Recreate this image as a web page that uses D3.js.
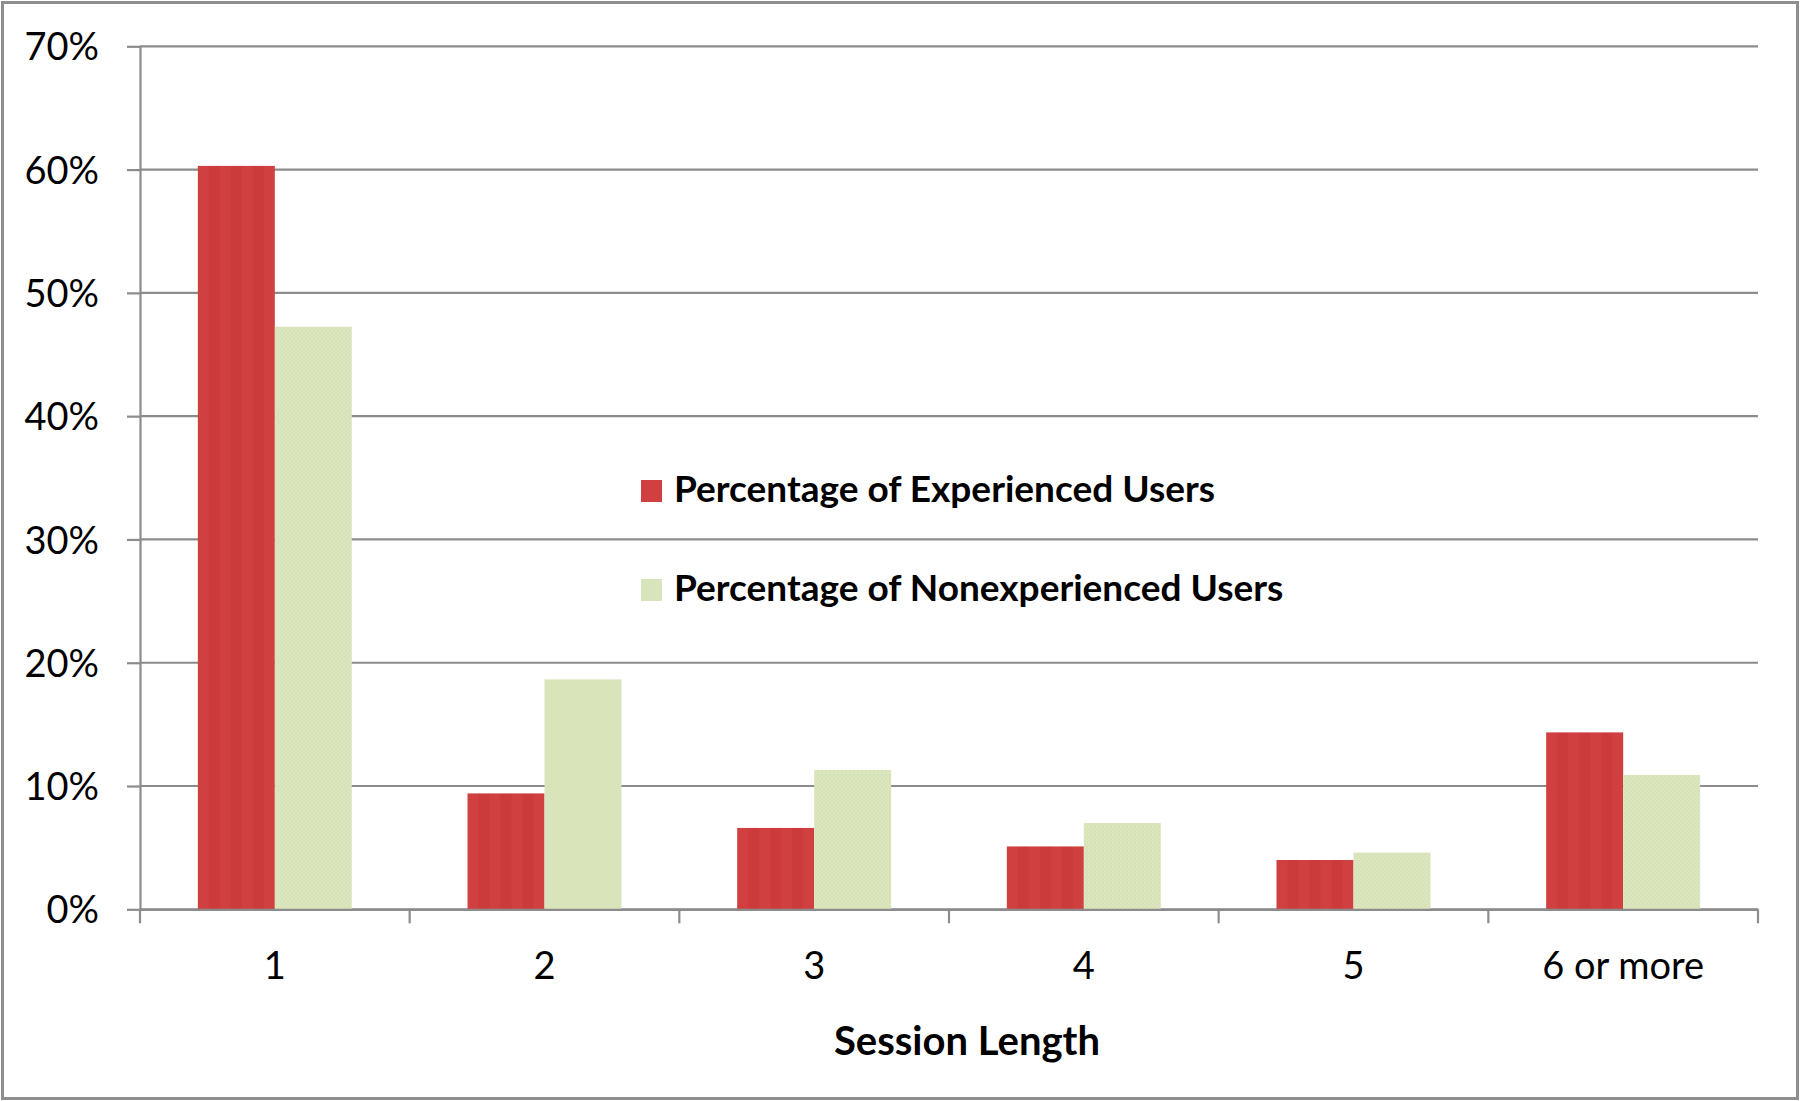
<!DOCTYPE html>
<html>
<head>
<meta charset="utf-8">
<script src="https://cdn.jsdelivr.net/npm/d3@7"></script>
<style>
  body { margin: 0; background: #fff; }
  text { font-family: Lato, "Open Sans", sans-serif; fill: #000; }
</style>
</head>
<body>
<div id="chart"></div>
<script>
"use strict";

// data
var categories = ["1", "2", "3", "4", "5", "6 or more"];
var seriesNames = ["Percentage of Experienced Users", "Percentage of Nonexperienced Users"];
var experienced = [0.603, 0.094, 0.066, 0.051, 0.040, 0.1435];
var nonexperienced = [0.4725, 0.1865, 0.113, 0.070, 0.046, 0.109];
var yTicks = [0, 0.1, 0.2, 0.3, 0.4, 0.5, 0.6, 0.7];

var W = 1800, H = 1101;
var margin = {top: 46.3, left: 140, right: 42, bottom: 191.7};
var width = W - margin.left - margin.right;
var height = H - margin.top - margin.bottom;

var svg = d3.select("#chart")
    .append("svg")
    .attr("width", W)
    .attr("height", H);

// textures for the bars
var defs = svg.append("defs");
var redPat = defs.append("pattern")
    .attr("id", "redFill")
    .attr("patternUnits", "userSpaceOnUse")
    .attr("width", 22).attr("height", 10);
redPat.append("rect").attr("width", 22).attr("height", 10).attr("fill", "#d04040");
redPat.append("rect").attr("x", 11).attr("width", 11).attr("height", 10).attr("fill", "#cc3a3b");

var greenPat = defs.append("pattern")
    .attr("id", "greenFill")
    .attr("patternUnits", "userSpaceOnUse")
    .attr("width", 4).attr("height", 4);
greenPat.append("rect").attr("width", 4).attr("height", 4).attr("fill", "#dbe6bf");
greenPat.append("rect").attr("x", 0).attr("y", 0).attr("width", 1).attr("height", 1).attr("fill", "#c5d79c");
greenPat.append("rect").attr("x", 2).attr("y", 2).attr("width", 1).attr("height", 1).attr("fill", "#cbdba6");

var fills = ["url(#redFill)", "url(#greenFill)"];
var legendFills = ["#d04040", "#d8e4bb"];

// outer frame
svg.append("rect")
    .attr("x", 2.5).attr("y", 2.5)
    .attr("width", W - 5).attr("height", H - 5)
    .attr("fill", "none")
    .attr("stroke", "#8e8e8e")
    .attr("stroke-width", 3);

var g = svg.append("g")
    .attr("transform", "translate(" + margin.left + "," + margin.top + ")");

// scales
var x = d3.scaleBand()
    .domain(categories)
    .range([0, width])
    .paddingInner(0.429)
    .paddingOuter(0.2145);

var xs = d3.scaleBand()
    .domain(seriesNames)
    .range([0, x.bandwidth()]);

var y = d3.scaleLinear()
    .domain([0, 0.7])
    .range([height, 0]);

// gridlines
g.append("g")
    .selectAll("line")
    .data(yTicks)
    .enter()
    .append("line")
    .attr("x1", 0)
    .attr("x2", width)
    .attr("y1", d => y(d))
    .attr("y2", d => y(d))
    .attr("stroke", "#8c8c8c")
    .attr("stroke-width", 2.2);

// bars
var rows = categories.map((c, i) => ({cat: c, vals: [experienced[i], nonexperienced[i]]}));
var groups = g.append("g")
    .selectAll("g")
    .data(rows)
    .enter()
    .append("g")
    .attr("transform", d => "translate(" + x(d.cat) + ",0)");

groups.selectAll("rect")
    .data(d => d.vals.map((v, k) => ({name: seriesNames[k], v: v, k: k})))
    .enter()
    .append("rect")
    .attr("x", d => xs(d.name))
    .attr("y", d => y(d.v))
    .attr("width", xs.bandwidth())
    .attr("height", d => height - y(d.v))
    .attr("fill", d => fills[d.k]);

// y axis
var yAxis = g.append("g")
    .call(d3.axisLeft(y)
        .tickValues(yTicks)
        .tickFormat(d3.format(".0%"))
        .tickSizeInner(13)
        .tickSizeOuter(0)
        .tickPadding(28));
yAxis.selectAll("line").attr("stroke", "#8c8c8c").attr("stroke-width", 2.2);
yAxis.select(".domain").attr("stroke", "#8c8c8c").attr("stroke-width", 2.2);
yAxis.selectAll("text")
    .attr("font-size", 38)
    .attr("font-family", "Lato, sans-serif")
    .attr("dy", "0.36em");

// x axis
var xAxis = g.append("g")
    .attr("transform", "translate(0," + height + ")")
    .call(d3.axisBottom(x).tickSize(0).tickSizeOuter(0));
xAxis.select(".domain").attr("stroke", "#8c8c8c").attr("stroke-width", 2.2);
xAxis.selectAll("text")
    .attr("font-size", 38)
    .attr("font-family", "Lato, sans-serif")
    .attr("y", 70)
    .attr("dy", 0);

// category boundary ticks
var bounds = d3.range(categories.length + 1).map(i => i * x.step());
xAxis.selectAll(".bound")
    .data(bounds)
    .enter()
    .append("line")
    .attr("class", "bound")
    .attr("x1", d => d)
    .attr("x2", d => d)
    .attr("y1", 0)
    .attr("y2", 14)
    .attr("stroke", "#8c8c8c")
    .attr("stroke-width", 2.2);

// axis title
svg.append("text")
    .attr("x", 967)
    .attr("y", 1055)
    .attr("text-anchor", "middle")
    .attr("font-size", 40)
    .attr("font-weight", "bold")
    .text("Session Length");

// legend
var legend = svg.append("g")
    .attr("transform", "translate(641,480)");
var li = legend.selectAll("g")
    .data(seriesNames)
    .enter()
    .append("g")
    .attr("transform", (d, i) => "translate(0," + (i * 99) + ")");
li.append("rect")
    .attr("width", 21)
    .attr("height", 22)
    .attr("fill", (d, i) => legendFills[i]);
li.append("text")
    .attr("x", 33)
    .attr("y", 22)
    .attr("font-size", 37)
    .attr("font-weight", "bold")
    .text(d => d);
</script>
</body>
</html>
